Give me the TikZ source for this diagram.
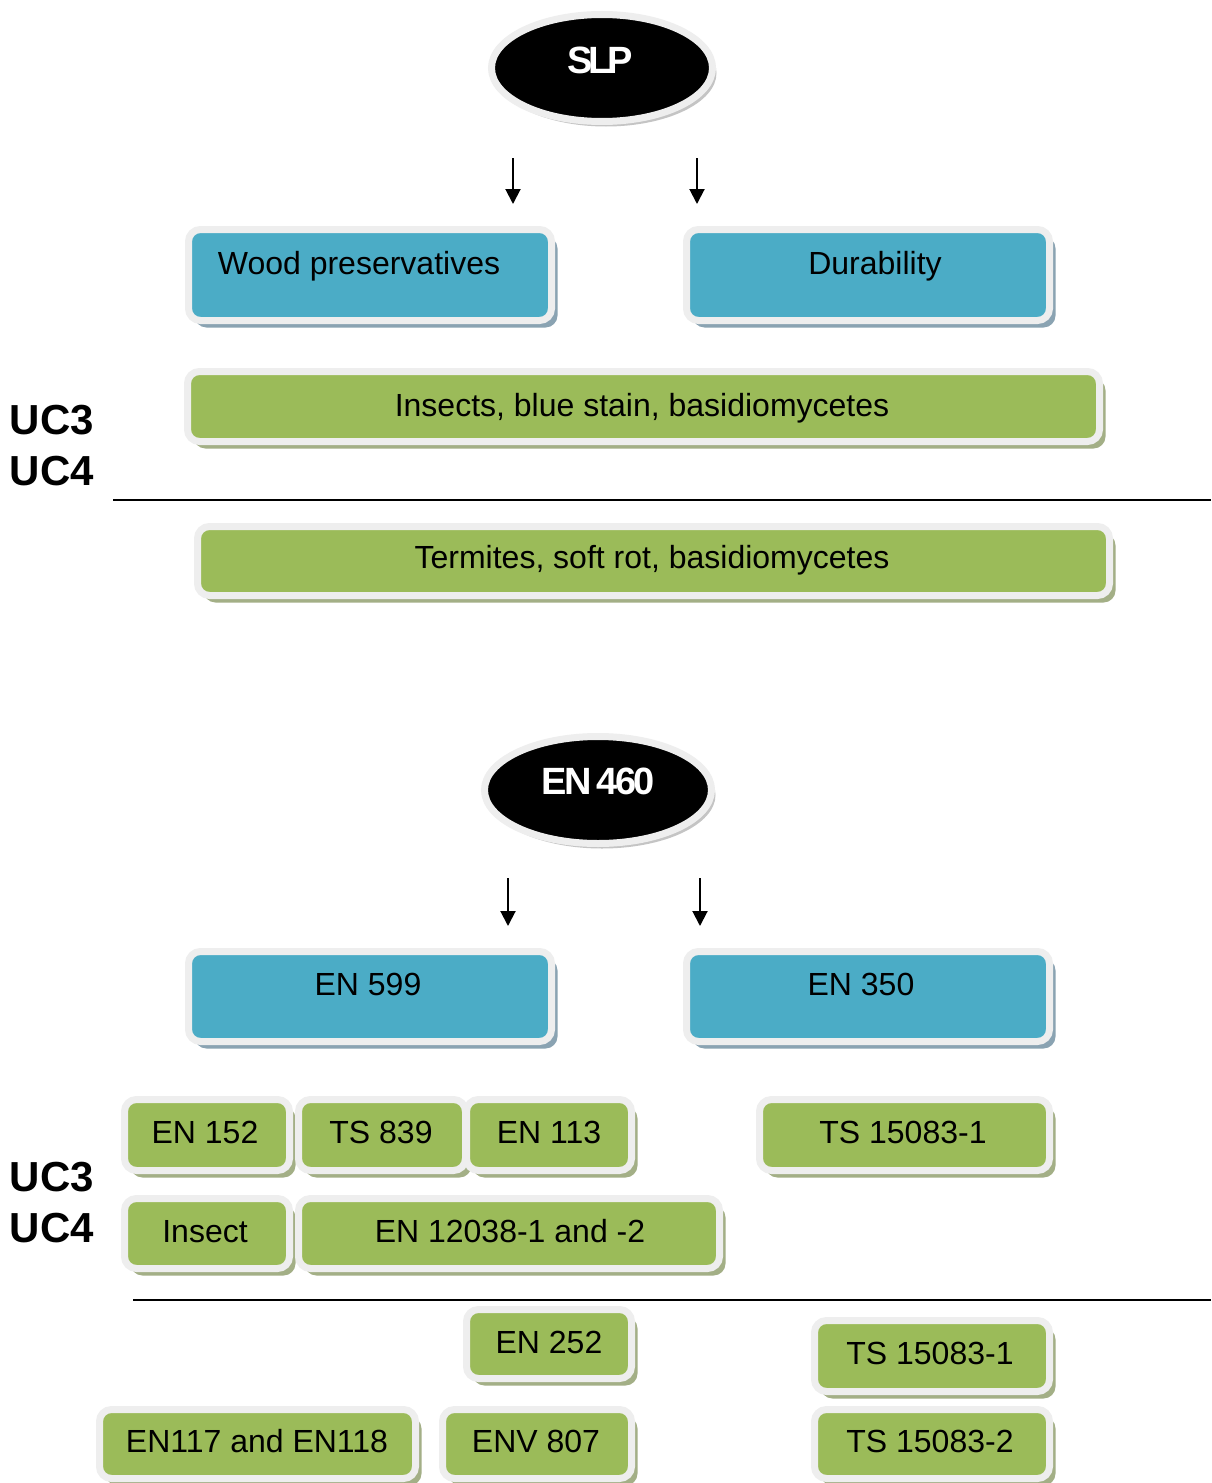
\documentclass[tikz,border=0pt]{standalone}
\usepackage{fontspec}
\setmainfont{Liberation Sans}
\usetikzlibrary{shadows,arrows.meta,shapes.geometric}
\definecolor{bfill}{HTML}{4BACC6}
\definecolor{gfill}{HTML}{9BBB59}
\definecolor{bord}{HTML}{EEEEEE}
\definecolor{bshad}{HTML}{8AA3B2}
\definecolor{gshad}{HTML}{A3AF86}
\definecolor{eshad}{HTML}{C4C4C4}
\tikzset{
  box/.style={draw=bord, line width=7pt, rounded corners=12pt, inner sep=0pt},
  bluebox/.style={box, fill=bfill, drop shadow={shadow xshift=6pt, shadow yshift=-7pt, fill=bshad, fill opacity=1, opacity=1}},
  greenbox/.style={box, fill=gfill, drop shadow={shadow xshift=6pt, shadow yshift=-7pt, fill=gshad, fill opacity=1, opacity=1}},
  lbl/.style={inner sep=0pt, font=\fontsize{32}{38}\selectfont, text height=23pt, text depth=0pt},
  ell/.style={ellipse, fill=black, draw=bord, line width=7pt, inner sep=0pt, drop shadow={shadow xshift=4pt, shadow yshift=-5pt, fill=eshad, fill opacity=1, opacity=1}},
  etxt/.style={inner sep=0pt, text=white, font=\bfseries\fontsize{38}{44}\selectfont, text height=27pt, text depth=0pt},
  uc/.style={inner sep=0pt, font=\bfseries\fontsize{42}{48}\selectfont, text height=30pt, text depth=0pt},
  arr/.style={line width=2pt, -{Triangle[width=15pt,length=15pt]}},
  sep/.style={line width=2pt}
}
% name, style, x1, y1, x2, y2, text x, text y, text
\newcommand\bx[9]{%
  \node[#2, minimum width={#5-#3+7}, minimum height={#6-#4+7}] (#1) at ({(#3+#5)/2},{(#4+#6)/2}) {};
  \node[lbl] (#1-t) at (#7,#8) {#9};
}
\begin{document}
\begin{tikzpicture}[x=1pt, y=-1pt]
\fill[white] (0,0) rectangle (1211,1483);
\useasboundingbox (0,0) rectangle (1211,1483);

% ---- upper part ----
\node[ell, minimum width=221pt, minimum height=107pt] (slp) at (602,68) {};
\node[etxt] (slp-t) at (600,60) {S\kern-4.5pt L\kern-4.5pt P};

\coordinate (a1s) at (513,158); \coordinate (a1e) at (513,204);
\coordinate (a2s) at (697,158); \coordinate (a2e) at (697,204);
\draw[arr] (a1s) -- (a1e);
\draw[arr] (a2s) -- (a2e);

\bx{wood}{bluebox}{192}{233}{548}{317}{359}{263}{Wood preservatives}
\bx{dur}{bluebox}{690}{233}{1046}{317}{875}{263}{Durability}
\bx{insects}{greenbox}{191}{375}{1096}{438}{642}{405}{Insects, blue stain, basidiomycetes}
\bx{termites}{greenbox}{201}{530}{1106}{592}{652}{557}{Termites, soft rot, basidiomycetes}

\node[uc] (uc3a) at (52,419) {UC3};
\node[uc] (uc4a) at (52,470) {UC4};
\coordinate (l1a) at (113,500); \coordinate (l1b) at (1211,500);
\draw[sep] (l1a) -- (l1b);

% ---- lower part ----
\node[ell, minimum width=227pt, minimum height=107pt] (en460) at (598,790) {};
\node[etxt] (en460-t) at (598,781) {E\kern-3pt N\kern-5pt\ 4\kern-3pt 6\kern-3pt 0};

\coordinate (b1s) at (508,878); \coordinate (b1e) at (508,926);
\coordinate (b2s) at (700,878); \coordinate (b2e) at (700,926);
\draw[arr] (b1s) -- (b1e);
\draw[arr] (b2s) -- (b2e);

\bx{en599}{bluebox}{192}{955}{548}{1038}{368}{984}{EN 599}
\bx{en350}{bluebox}{690}{955}{1046}{1038}{861}{984}{EN 350}

\bx{en152}{greenbox}{128}{1103}{286}{1167}{205}{1132}{EN 152}
\bx{ts839}{greenbox}{302}{1103}{462}{1167}{381}{1132}{TS 839}
\bx{en113}{greenbox}{470}{1103}{628}{1167}{549}{1132}{EN 113}
\bx{tsa}{greenbox}{763}{1103}{1046}{1167}{903}{1132}{TS 15083-1}
\bx{insect}{greenbox}{128}{1202}{286}{1265}{205}{1231}{Insect}
\bx{en12038}{greenbox}{302}{1202}{716}{1265}{510}{1231}{EN 12038-1 and -2}

\node[uc] (uc3b) at (52,1176) {UC3};
\node[uc] (uc4b) at (52,1227) {UC4};
\coordinate (l2a) at (133,1300); \coordinate (l2b) at (1211,1300);
\draw[sep] (l2a) -- (l2b);

\bx{en252}{greenbox}{470}{1313}{628}{1375}{549}{1342}{EN 252}
\bx{tsb}{greenbox}{818}{1324}{1046}{1388}{930}{1353}{TS 15083-1}
\bx{en117}{greenbox}{103}{1413}{412}{1475}{257}{1441}{EN117 and EN118}
\bx{env807}{greenbox}{446}{1413}{628}{1475}{536}{1441}{ENV 807}
\bx{tsc}{greenbox}{818}{1413}{1046}{1475}{930}{1441}{TS 15083-2}
\end{tikzpicture}
\end{document}
